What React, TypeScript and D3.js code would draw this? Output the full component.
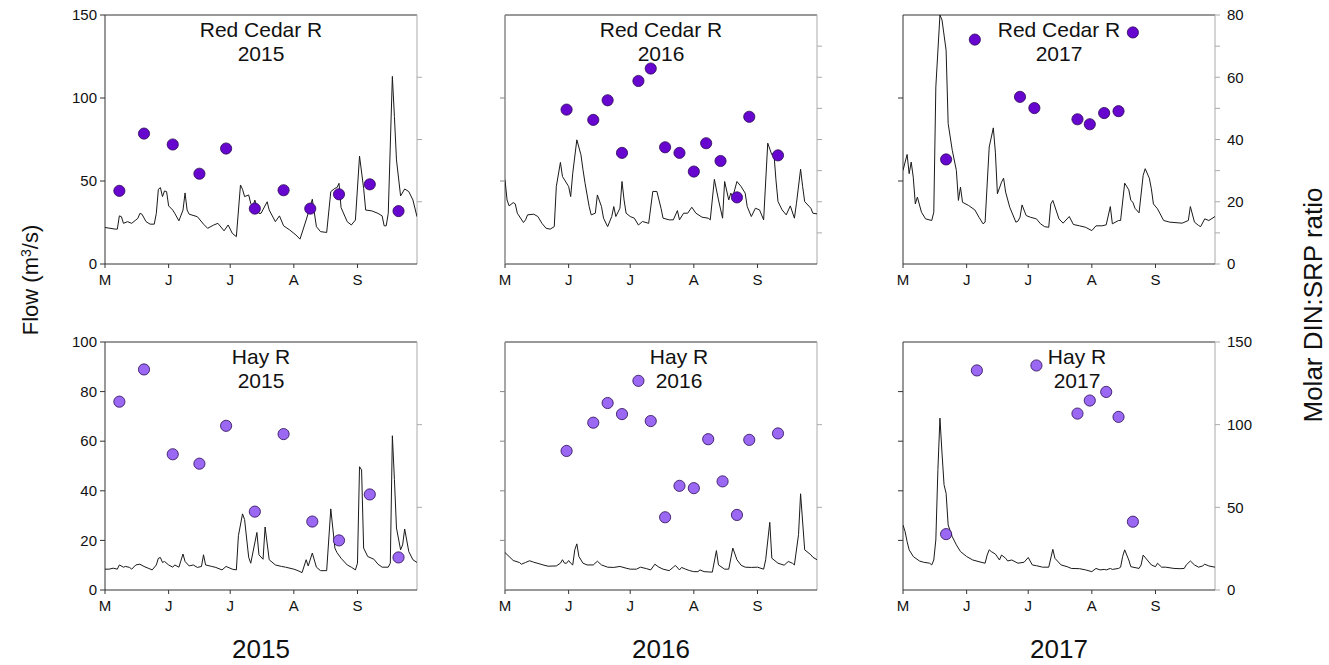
import React from "react";
import * as d3 from "d3";

// ---- Daily flow (m3/s), as [days after May 1, flow] ----
const RC2015_FLOW: [number, number][] = [[0,22],[5,21],[6,21],[7,29],[8,28.5],[9,24.5],[11,25.5],[13,24.5],[15,26.5],[16,27.5],[17,30.5],[18,30],[20,25.5],[22,24],[24,24],[25,30.5],[26,45],[27,46],[28,40.6],[29,44],[30,43.6],[31,35],[33,32.5],[34,30.5],[36,26],[38,32.5],[39,42.8],[40,32.5],[41,30],[45,28.5],[48,24],[50,21.5],[53,23.5],[55,24.5],[58,20],[60,23.5],[62,18.5],[64,16.5],[66,47.6],[67,45],[68,40.6],[70,41.6],[71,36.5],[72,34.5],[73,38.5],[75,30.5],[76,30.5],[79,37.5],[80,32.5],[83,25.5],[85,29],[87,23],[90,20.5],[93,17.5],[95,15],[98,26.5],[101,39],[103,22.5],[105,19.5],[108,19],[110,43.6],[112,45.6],[113,46],[114,48.6],[115,34],[118,25.5],[120,23.5],[122,26.5],[124,65],[126,45.6],[127,32.5],[130,32],[133,30.5],[135,29],[136,23],[137,23],[138,30.5],[140,113],[141,88.8],[142,62.7],[144,41],[146,45.2],[148,43.6],[150,38.6],[152,28.5]];
const RC2016_FLOW: [number, number][] = [[0,50.7],[1,38.6],[2,35],[4,37],[5,36.2],[6,30.6],[9,25],[10,26.6],[11,29.6],[14,30],[16,28.6],[18,24.5],[20,21.5],[22,21],[24,22.5],[25,46.7],[27,61.2],[28,52.7],[31,46.7],[32,40.6],[33,54.7],[35,74.8],[37,65.8],[38,56.7],[39,48.7],[41,34.6],[42,29.6],[44,30.6],[45,41.6],[47,34.6],[48,27.6],[50,22.5],[52,28.6],[53,34.6],[54,28.6],[56,33.6],[57,49.7],[58,38.6],[59,30.6],[61,28.6],[63,27.6],[65,23.5],[67,25.6],[70,24.5],[72,43.7],[74,43.7],[76,33.6],[77,27.6],[80,26.6],[82,26.6],[84,32.2],[85,26.6],[87,30.6],[89,30.6],[91,34.2],[93,30.6],[96,28.2],[99,27.6],[100,26.6],[102,51],[104,38.6],[106,27.6],[107,49.7],[109,38.6],[110,42.7],[111,40.6],[113,49.7],[115,46.7],[117,42.7],[118,34.6],[120,28.6],[122,33.6],[124,32.6],[126,26.6],[128,72.8],[130,65.8],[131,66.8],[132,50.7],[133,37.6],[135,32.6],[137,29.6],[139,35],[141,27.6],[142,36.6],[144,57.1],[145,46.7],[146,37.6],[149,33.6],[150,30.6],[152,30.2]];
const RC2017_FLOW: [number, number][] = [[0,56.4],[2,66],[3,54.4],[4,61.4],[5,52.3],[6,36.2],[7,40.3],[9,31.2],[11,27.2],[14,26.2],[15,31.2],[16,106.7],[18,150],[19,147],[21,128.8],[22,84.6],[24,68.5],[26,56.4],[27,38.3],[28,46.3],[29,37.2],[32,35.2],[35,32.6],[37,28.2],[39,24.2],[40,25.2],[42,70.5],[44,82],[45,67.4],[46,42.3],[48,49.3],[49,51.7],[50,43.3],[52,34.2],[55,25.2],[56,25.8],[57,28.2],[58,35.6],[60,29.2],[62,28.2],[65,27.2],[67,24.2],[69,22.5],[71,22.1],[72,36.2],[73,38.3],[76,27.2],[78,24.6],[81,28.6],[83,23.8],[86,23],[89,22.1],[92,20.1],[94,23],[97,23],[99,23.6],[101,34.6],[102,24.2],[105,26.2],[106,26.2],[108,48.7],[110,44.7],[111,38.3],[112,37.2],[113,33.6],[115,30.8],[117,53.4],[118,57.4],[120,51.7],[121,45.3],[122,36.2],[124,33.2],[127,26.2],[130,25.2],[136,24.6],[139,26.2],[140,34.6],[142,25.2],[144,23.2],[145,22.5],[147,27.2],[149,26.2],[152,28.6]];
const HAY2015_FLOW: [number, number][] = [[0,8.4],[2,8.4],[4,8.8],[6,8.4],[7,10.1],[9,9.2],[10,9.5],[12,9.1],[13,8.4],[15,10.1],[17,10.4],[19,9.5],[21,8.8],[23,8.1],[25,10.1],[26,12.8],[27,13.1],[28,11.1],[29,11.5],[31,10.1],[33,9.2],[34,10.1],[36,9.2],[38,14.5],[39,11.5],[41,9.7],[43,10.1],[45,9.1],[47,9.5],[48,14.2],[49,10.1],[52,9.5],[54,9.1],[57,8.1],[59,9.5],[62,8.4],[64,8.1],[65,21.9],[67,30.7],[68,28.4],[70,13.2],[71,10.8],[74,23.2],[75,14.2],[77,12.4],[78,25.4],[80,12.2],[83,10.1],[86,9.5],[88,9.2],[92,8.4],[94,7.8],[96,7],[98,12.2],[99,9.7],[101,14.9],[103,9.2],[105,7.8],[108,7.8],[110,32.7],[112,16.9],[113,15.1],[115,12.8],[118,10.1],[120,9.2],[122,8.1],[123,10.8],[124,49.7],[125,48.4],[126,16.9],[128,13.5],[131,12.4],[133,10.4],[135,9.2],[138,9.2],[139,10.8],[140,62.2],[141,44.6],[142,25],[144,16.2],[145,18.2],[146,24.6],[148,15.5],[150,12.2],[152,11.1]];
const HAY2016_FLOW: [number, number][] = [[0,15.1],[2,13.5],[4,11.9],[7,11.1],[8,10.4],[10,11.1],[12,11.8],[14,11.2],[17,10.5],[19,10],[21,9.6],[25,9.7],[27,10.8],[28,12.2],[29,10.8],[30,10.8],[31,11.9],[32,10.8],[33,10.1],[34,16.2],[35,18.6],[36,13.5],[38,10.8],[40,10.1],[43,10.1],[45,11.6],[47,10.1],[50,9.2],[53,9.1],[56,9.5],[59,8.8],[61,8.4],[64,8.4],[66,9.2],[69,8.6],[71,8.1],[73,10.4],[75,9.2],[77,8.4],[80,7.8],[82,9.2],[83,9.9],[85,8.1],[86,9.1],[88,8.4],[90,7.8],[92,7.4],[94,7.4],[95,8.1],[97,7.4],[99,7.3],[101,7.2],[103,15.9],[104,10.1],[107,8.4],[109,8.4],[111,16.9],[113,12.2],[115,10],[117,9.2],[120,9.1],[123,9.2],[126,8.4],[127,12.2],[129,27.3],[130,12.8],[133,10.8],[136,10],[138,11.5],[140,10.8],[141,10.1],[143,22.3],[144,38.8],[146,16.2],[149,14.2],[150,13.2],[152,12.2]];
const HAY2017_FLOW: [number, number][] = [[0,26.2],[1,23.6],[2,19.5],[3,16.2],[5,13.5],[8,11.7],[10,11.2],[13,10.8],[14,10.1],[15,12.1],[16,20.2],[17,48.5],[18,69.3],[19,55.2],[20,42.4],[21,39],[22,26.2],[24,21.5],[26,18.2],[28,15.5],[31,13.5],[34,12.1],[38,11.2],[40,10.8],[41,14.1],[42,16.2],[43,15.5],[45,14.5],[47,12.1],[48,14.1],[50,12.8],[51,11.7],[53,12.1],[56,10.8],[59,11.2],[61,13.1],[63,10.1],[65,9.8],[68,9.2],[71,9.2],[73,16.4],[74,12.8],[77,10.1],[80,9.4],[82,8.7],[86,8.6],[89,8.1],[92,7.4],[94,8.7],[96,8.1],[98,8.3],[99,8.1],[101,8.7],[102,8.3],[105,8.7],[106,9.2],[107,13.5],[108,16.2],[110,12.1],[111,9.4],[115,8.7],[116,10.1],[117,14.1],[119,12.1],[121,10.1],[123,9.4],[124,10.8],[126,9.2],[128,9.2],[132,8.7],[135,8.6],[137,8.7],[138,10.1],[140,11.7],[142,10.1],[144,9.2],[146,9.7],[147,10.4],[149,9.7],[152,9.2]];

// ---- Molar DIN:SRP ratio of each sample, as [days after May 1, ratio] ----
const RC2015_RATIO: [number, number][] = [[7,23.5],[19,41.9],[33,38.4],[46,29.0],[59,37.1],[73,17.8],[87,23.7],[100,17.8],[114,22.4],[129,25.6],[143,17.0]];
const RC2016_RATIO: [number, number][] = [[30,49.6],[43,46.3],[50,52.6],[57,35.7],[65,58.8],[71,62.8],[78,37.5],[85,35.7],[92,29.7],[98,38.8],[105,33.1],[113,21.4],[119,47.3],[133,34.9]];
const RC2017_RATIO: [number, number][] = [[21,33.6],[35,72.1],[57,53.7],[64,50.1],[85,46.5],[91,44.9],[98,48.5],[105,49.1],[112,74.4]];
const HAY2015_RATIO: [number, number][] = [[7,113.9],[19,133.4],[33,82.1],[46,76.4],[59,99.3],[73,47.4],[87,94.3],[101,41.4],[114,30],[129,57.8],[143,19.7]];
const HAY2016_RATIO: [number, number][] = [[30,84.1],[43,101.2],[50,113.1],[57,106.4],[65,126.5],[71,102.2],[78,44],[85,63],[92,61.6],[99,91.2],[106,65.7],[113,45.4],[119,90.8],[133,94.7]];
const HAY2017_RATIO: [number, number][] = [[21,33.8],[36,132.8],[65,135.8],[85,106.7],[91,114.6],[99,119.8],[105,104.7],[112,41.3]];

const YEARS = [2015, 2016, 2017];
const RIVERS = ["Red Cedar R", "Hay R"];

const W = 1329;
const H = 665;
const PANEL_W = 312;
const COL_LEFT = [105, 505, 903];
const ROW_TOP = [15, 342];
const ROW_H = [249, 248];
const FONT = "'Liberation Sans', Arial, Helvetica, sans-serif";

type PanelSpec = {
  river: string;
  year: number;
  row: number;
  col: number;
  flow: [number, number][];
  ratio: [number, number][];
  flowMax: number;
  flowTicks: number[];
  flowLabels: boolean;
  ratioMax: number;
  ratioTicks: number[];
  ratioLabels: number[];
  dotFill: string;
  titleShift: number;
};

const TOP_DOT = "#6606cf";
const BOTTOM_DOT = "#9a68f2";

const PANELS: PanelSpec[] = [
  { river: RIVERS[0], year: YEARS[0], row: 0, col: 0, flow: RC2015_FLOW, ratio: RC2015_RATIO, flowMax: 150, flowTicks: [0, 50, 100, 150], flowLabels: true, ratioMax: 80, ratioTicks: [20, 40, 60], ratioLabels: [], dotFill: TOP_DOT, titleShift: 0 },
  { river: RIVERS[0], year: YEARS[1], row: 0, col: 1, flow: RC2016_FLOW, ratio: RC2016_RATIO, flowMax: 150, flowTicks: [50, 100], flowLabels: false, ratioMax: 80, ratioTicks: [10, 20, 30, 40, 50, 60, 70], ratioLabels: [], dotFill: TOP_DOT, titleShift: 0 },
  { river: RIVERS[0], year: YEARS[2], row: 0, col: 2, flow: RC2017_FLOW, ratio: RC2017_RATIO, flowMax: 150, flowTicks: [50, 100], flowLabels: false, ratioMax: 80, ratioTicks: [0, 10, 20, 30, 40, 50, 60, 70, 80], ratioLabels: [0, 20, 40, 60, 80], dotFill: TOP_DOT, titleShift: 0 },
  { river: RIVERS[1], year: YEARS[0], row: 1, col: 0, flow: HAY2015_FLOW, ratio: HAY2015_RATIO, flowMax: 100, flowTicks: [0, 20, 40, 60, 80, 100], flowLabels: true, ratioMax: 150, ratioTicks: [50, 100], ratioLabels: [], dotFill: BOTTOM_DOT, titleShift: 0 },
  { river: RIVERS[1], year: YEARS[1], row: 1, col: 1, flow: HAY2016_FLOW, ratio: HAY2016_RATIO, flowMax: 100, flowTicks: [20, 40, 60, 80], flowLabels: false, ratioMax: 150, ratioTicks: [50, 100], ratioLabels: [], dotFill: BOTTOM_DOT, titleShift: 18 },
  { river: RIVERS[1], year: YEARS[2], row: 1, col: 2, flow: HAY2017_FLOW, ratio: HAY2017_RATIO, flowMax: 100, flowTicks: [20, 40, 60, 80], flowLabels: false, ratioMax: 150, ratioTicks: [0, 50, 100, 150], ratioLabels: [0, 50, 100, 150], dotFill: BOTTOM_DOT, titleShift: 18 },
];

function Panel({ p }: { p: PanelSpec }) {
  const left = COL_LEFT[p.col];
  const right = left + PANEL_W;
  const top = ROW_TOP[p.row];
  const bottom = top + ROW_H[p.row];

  const start = new Date(p.year, 4, 1);
  const end = new Date(p.year, 8, 30);
  const seasonDays = d3.timeDay.count(start, end);
  const months = d3.timeMonth.range(start, d3.timeDay.offset(end, 1));
  const monthTicks = months.map((m) => ({
    day: d3.timeDay.count(start, m),
    label: d3.timeFormat("%B")(m)[0],
  }));

  const x = d3.scaleLinear().domain([0, seasonDays]).range([left, right]);
  const yFlow = d3.scaleLinear().domain([0, p.flowMax]).range([bottom, top]);
  const yRatio = d3.scaleLinear().domain([0, p.ratioMax]).range([bottom, top]);

  const line = d3
    .line<[number, number]>()
    .x((d) => x(d[0]))
    .y((d) => yFlow(d[1]));

  const clipId = `clip-${p.row}-${p.col}`;
  const midCol = p.col === 1;
  const cx = (left + right) / 2 + p.titleShift;

  return (
    <g>
      <defs>
        <clipPath id={clipId}>
          <rect x={left} y={top} width={right - left} height={bottom - top} />
        </clipPath>
      </defs>

      {/* frame */}
      <line x1={left} x2={right} y1={top} y2={top} stroke="#333" strokeWidth={1} />
      <line x1={right} x2={right} y1={top} y2={bottom} stroke="#aaa" strokeWidth={1} />
      <line x1={left} x2={right} y1={bottom} y2={bottom} stroke="#333" strokeWidth={1} />
      <line x1={left} x2={left} y1={top} y2={bottom} stroke={midCol ? "#888" : "#333"} strokeWidth={midCol ? 1.5 : 1} />

      {/* left axis: flow */}
      {p.flowTicks.map((t) => (
        <g key={`fl${t}`}>
          <line x1={left - 5} x2={left} y1={yFlow(t)} y2={yFlow(t)} stroke={midCol ? "#888" : "#333"} strokeWidth={1} />
          {p.flowLabels && (
            <text x={left - 8} y={yFlow(t)} dy="0.35em" textAnchor="end" fontSize={15} fill="#111">
              {t}
            </text>
          )}
        </g>
      ))}

      {/* right axis: DIN:SRP */}
      {p.ratioTicks.map((t) => (
        <line key={`rt${t}`} x1={right} x2={right + 5} y1={yRatio(t)} y2={yRatio(t)} stroke="#aaa" strokeWidth={1} />
      ))}
      {p.ratioLabels.map((t) => (
        <text key={`rl${t}`} x={right + 12} y={yRatio(t)} dy="0.35em" textAnchor="start" fontSize={15} fill="#111">
          {t}
        </text>
      ))}

      {/* bottom axis: months */}
      {monthTicks.map((m) => (
        <g key={`m${m.day}`}>
          <line x1={x(m.day)} x2={x(m.day)} y1={bottom} y2={bottom + 4} stroke="#333" strokeWidth={1} />
          <text x={x(m.day)} y={bottom + 21} textAnchor="middle" fontSize={15} fill="#111">
            {m.label}
          </text>
        </g>
      ))}

      {/* flow hydrograph */}
      <path d={line(p.flow) || ""} fill="none" stroke="#1a1a1a" strokeWidth={1} clipPath={`url(#${clipId})`} />

      {/* title */}
      <text x={cx} y={top + 22} textAnchor="middle" fontSize={21} fill="#111">
        {p.river}
      </text>
      <text x={cx} y={top + 46} textAnchor="middle" fontSize={21} fill="#111">
        {p.year}
      </text>

      {/* DIN:SRP samples */}
      {p.ratio.map((d, i) => (
        <circle key={i} cx={x(d[0])} cy={yRatio(d[1])} r={5.6} fill={p.dotFill} stroke="#2b0a55" strokeWidth={0.8} />
      ))}
    </g>
  );
}

export default function App() {
  return (
    <svg
      width={W}
      height={H}
      style={{ position: "absolute", left: 0, top: 0, background: "#fff" }}
      fontFamily={FONT}
    >
      <rect x={0} y={0} width={W} height={H} fill="#fff" />
      {PANELS.map((p) => (
        <Panel key={`${p.row}-${p.col}`} p={p} />
      ))}

      <text transform="translate(38,280) rotate(-90)" textAnchor="middle" fontSize={22} fill="#111">
        Flow (m
        <tspan dy={-7} fontSize={14}>3</tspan>
        <tspan dy={7}>/s)</tspan>
      </text>
      <text transform="translate(1322,305) rotate(-90)" textAnchor="middle" fontSize={26} fill="#111">
        Molar DIN:SRP ratio
      </text>

      {YEARS.map((yr, i) => (
        <text key={yr} x={COL_LEFT[i] + PANEL_W / 2} y={658} textAnchor="middle" fontSize={26} fill="#111">
          {yr}
        </text>
      ))}
    </svg>
  );
}
